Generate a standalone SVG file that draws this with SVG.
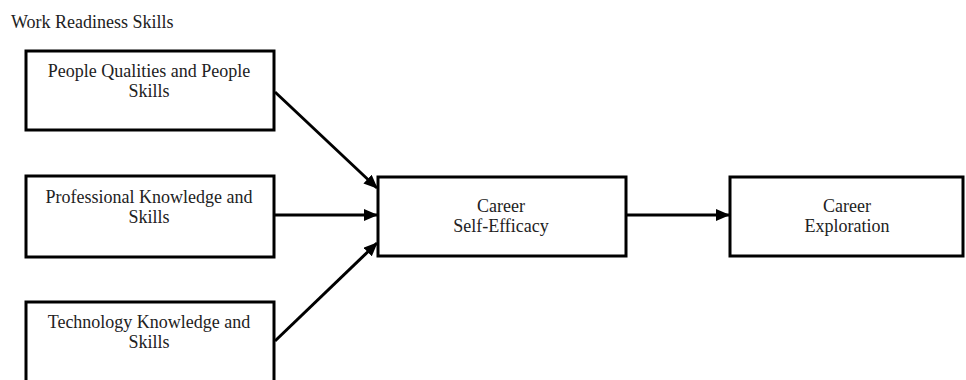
<svg xmlns="http://www.w3.org/2000/svg" width="966" height="380" viewBox="0 0 966 380">
  <style>
    .box { fill: #ffffff; stroke: #000000; stroke-width: 3; }
    .lbl { font-family: 'Liberation Serif', 'DejaVu Serif', serif; font-size: 18px; fill: #222222; text-anchor: middle; }
    .title { font-family: 'Liberation Serif', 'DejaVu Serif', serif; font-size: 18px; fill: #222222; }
    .link { stroke: #000000; stroke-width: 3; fill: none; marker-end: url(#head); }
  </style>
  <defs>
    <marker id="head" markerWidth="14" markerHeight="12" refX="13" refY="6" orient="auto" markerUnits="userSpaceOnUse">
      <path d="M0,0 L14,6 L0,12 Z" fill="#000000"/>
    </marker>
  </defs>
  <rect width="966" height="380" fill="#ffffff"/>

  <text class="title" x="11" y="28">Work Readiness Skills</text>

  <g id="connectors">
    <line class="link" x1="275" y1="92" x2="377" y2="188"/>
    <line class="link" x1="275" y1="215" x2="377" y2="215"/>
    <line class="link" x1="275" y1="341" x2="377" y2="243"/>
    <line class="link" x1="627" y1="215" x2="729" y2="215"/>
  </g>

  <g id="people-qualities">
    <rect class="box" x="26" y="51" width="248" height="79"/>
    <text class="lbl" x="149" y="77">People Qualities and People</text>
    <text class="lbl" x="149" y="97">Skills</text>
  </g>

  <g id="professional-knowledge">
    <rect class="box" x="26" y="176" width="248" height="81"/>
    <text class="lbl" x="149" y="203">Professional Knowledge and</text>
    <text class="lbl" x="149" y="223">Skills</text>
  </g>

  <g id="technology-knowledge">
    <rect class="box" x="26" y="302" width="248" height="90"/>
    <text class="lbl" x="149" y="328">Technology Knowledge and</text>
    <text class="lbl" x="149" y="348">Skills</text>
  </g>

  <g id="self-efficacy">
    <rect class="box" x="378" y="177" width="248" height="79"/>
    <text class="lbl" x="501" y="212">Career</text>
    <text class="lbl" x="501" y="232">Self-Efficacy</text>
  </g>

  <g id="exploration">
    <rect class="box" x="730" y="177" width="233" height="79"/>
    <text class="lbl" x="847" y="212">Career</text>
    <text class="lbl" x="847" y="232">Exploration</text>
  </g>
</svg>
